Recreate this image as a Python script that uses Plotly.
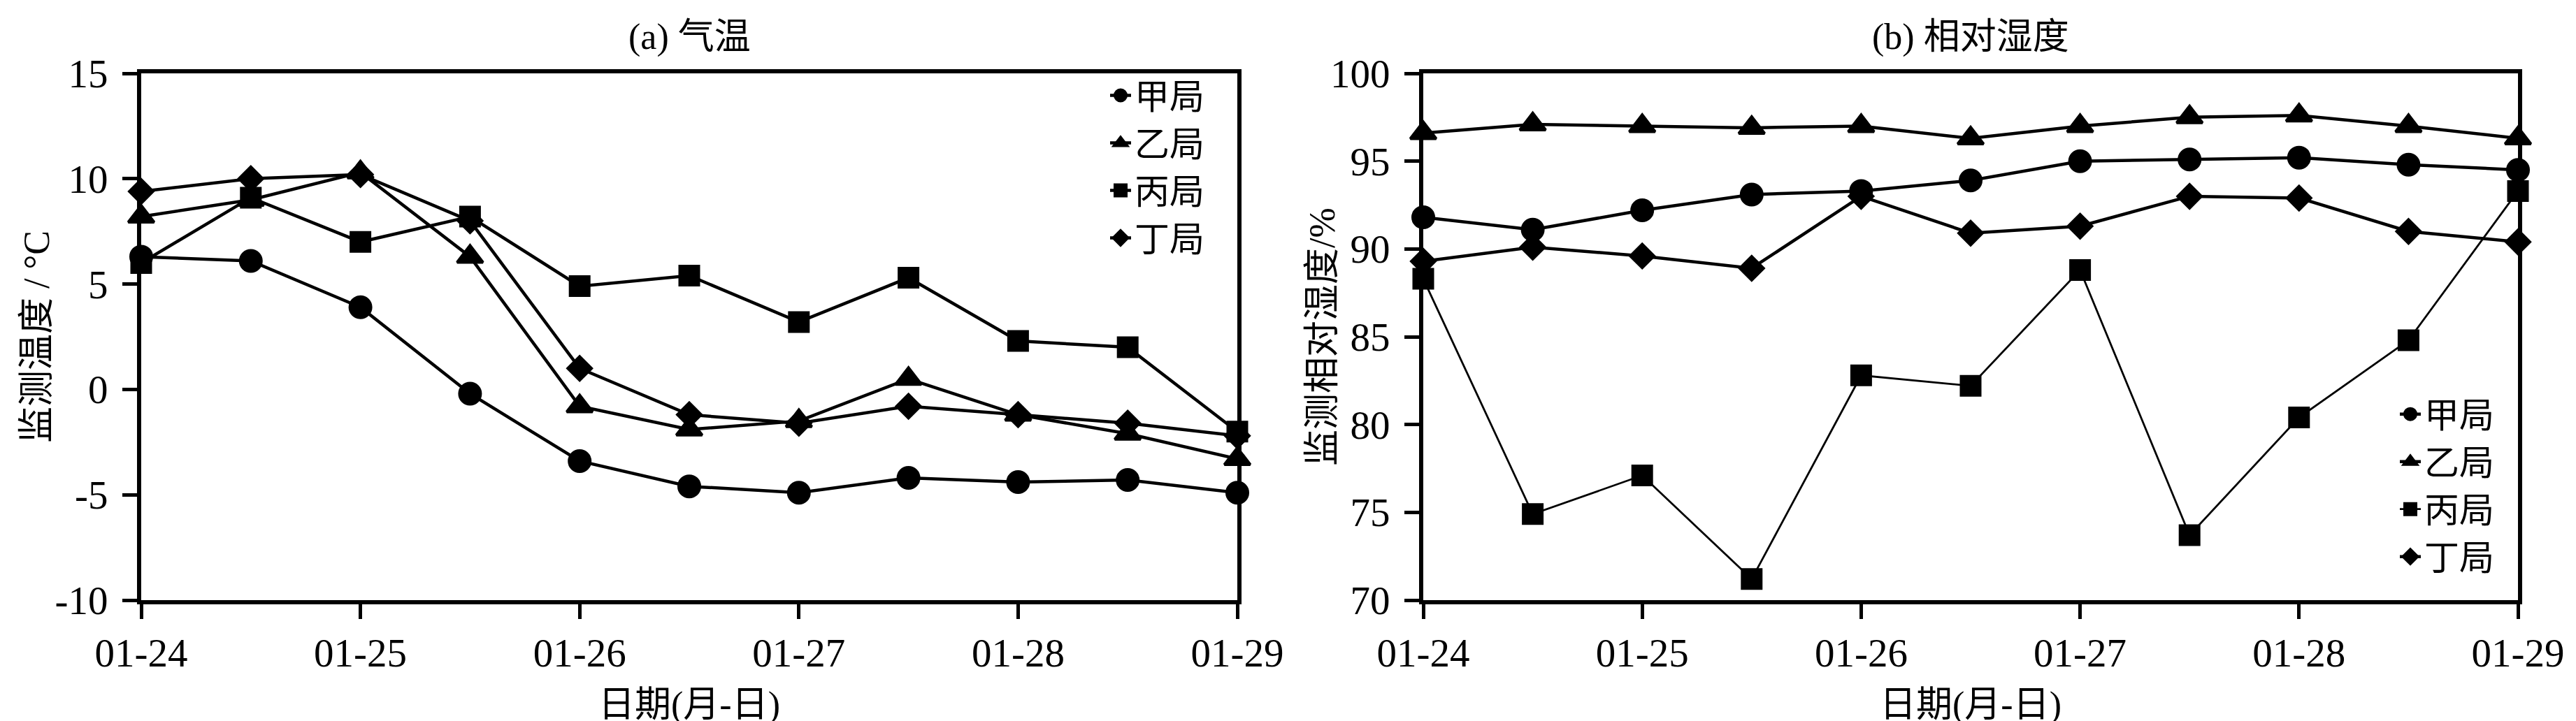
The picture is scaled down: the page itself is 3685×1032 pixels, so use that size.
import plotly.graph_objects as go
from plotly.subplots import make_subplots

# 观测时刻（以 01-24 0时为起点的天数，每半天一次）
x_pos = [0, 0.5, 1, 1.5, 2, 2.5, 3, 3.5, 4, 4.5, 5]
tick_vals = [0, 1, 2, 3, 4, 5]
tick_text = ["01-24", "01-25", "01-26", "01-27", "01-28", "01-29"]
stations = ["甲局", "乙局", "丙局", "丁局"]

# y 轴刻度（用普通连字符作负号）
temp_ticks = [-10, -5, 0, 5, 10, 15]
temp_ticktext = ["-10", "-5", "0", "5", "10", "15"]
rh_ticks = [70, 75, 80, 85, 90, 95, 100]
rh_ticktext = ["70", "75", "80", "85", "90", "95", "100"]

# (a) 气温 /°C
temp_jia = [6.3, 6.1, 3.9, -0.2, -3.4, -4.6, -4.9, -4.2, -4.4, -4.3, -4.9]
temp_yi = [8.2, 9.0, 10.3, 6.3, -0.8, -1.9, -1.5, 0.5, -1.2, -2.1, -3.3]
temp_bing = [6.0, 9.1, 7.0, 8.2, 4.9, 5.4, 3.2, 5.3, 2.3, 2.0, -2.0]
temp_ding = [9.4, 10.0, 10.2, 8.0, 1.0, -1.2, -1.6, -0.8, -1.2, -1.6, -2.2]

# (b) 相对湿度 /%
rh_jia = [91.8, 91.1, 92.2, 93.1, 93.3, 93.9, 95.0, 95.1, 95.2, 94.8, 94.5]
rh_yi = [96.6, 97.1, 97.0, 96.9, 97.0, 96.3, 97.0, 97.5, 97.6, 97.0, 96.3]
rh_bing = [88.3, 74.9, 77.1, 71.2, 82.8, 82.2, 88.8, 73.7, 80.4, 84.8, 93.3]
rh_ding = [89.3, 90.1, 89.6, 88.9, 93.0, 90.9, 91.3, 93.0, 92.9, 91.0, 90.4]

symbols = ["circle", "triangle-up", "square", "diamond"]
sizes = [30, 32, 27, 26]

W, H = 3685, 1032
FONT = "Liberation Serif, Noto Sans CJK SC"

fig = make_subplots(rows=1, cols=2)

temp_all = [temp_jia, temp_yi, temp_bing, temp_ding]
rh_all = [rh_jia, rh_yi, rh_bing, rh_ding]

for i in range(4):
    fig.add_trace(go.Scatter(
        x=x_pos, y=temp_all[i], name=stations[i], mode="lines+markers",
        line=dict(color="black", width=4.5),
        marker=dict(symbol=symbols[i], size=sizes[i], color="black",
                    line=dict(color="black", width=4)),
        cliponaxis=False, legend="legend"), row=1, col=1)

for i in range(4):
    lw = 2.8 if i == 2 else 4.5
    fig.add_trace(go.Scatter(
        x=x_pos, y=rh_all[i], name=stations[i], mode="lines+markers",
        line=dict(color="black", width=lw),
        marker=dict(symbol=symbols[i], size=sizes[i], color="black",
                    line=dict(color="black", width=4)),
        cliponaxis=False, legend="legend2"), row=1, col=2)

# 坐标轴
ax_common = dict(showline=True, linewidth=6, linecolor="black", mirror=True,
                 ticks="outside", ticklen=21, tickwidth=5, tickcolor="black",
                 showgrid=False, zeroline=False,
                 tickfont=dict(family=FONT, size=57, color="black"))

fig.update_xaxes(**ax_common, range=[0, 5], tickvals=tick_vals, ticktext=tick_text,
                 ticklabelstandoff=0)
fig.update_yaxes(**ax_common, ticklabelstandoff=9)
fig.update_yaxes(range=[-10, 15], tickvals=temp_ticks, ticktext=temp_ticktext, row=1, col=1)
fig.update_yaxes(range=[70, 100], tickvals=rh_ticks, ticktext=rh_ticktext, row=1, col=2)

fig.update_layout(
    xaxis=dict(domain=[194 / W, 1762 / W]),
    xaxis2=dict(domain=[2028 / W, 3594 / W]),
)

# 标题与坐标轴名称
d1 = fig.layout.xaxis.domain
d2 = fig.layout.xaxis2.domain
c1 = (d1[0] + d1[1]) / 2
c2 = (d2[0] + d2[1]) / 2
ann_font = dict(family=FONT, size=52, color="black")


def label(text, x, y, angle=0):
    return dict(text=text, x=x, y=y, xref="paper", yref="paper", showarrow=False,
                xanchor="center", yanchor="middle", textangle=angle, font=ann_font)


annotations = [
    label("(a) 气温", c1, 1.069),
    label("(b) 相对湿度", c2, 1.069),
    label("日期(月-日)", c1, -0.199),
    label("日期(月-日)", c2, -0.199),
    label("监测温度 / °C", 44 / W, 0.5, -90),
    label("监测相对湿度/%", 1883 / W, 0.5, -90),
]

leg_font = dict(family=FONT, size=50, color="black")
fig.update_layout(
    width=W, height=H,
    margin=dict(l=0, r=0, t=97, b=181, autoexpand=False),
    paper_bgcolor="white", plot_bgcolor="white",
    font=dict(family=FONT, color="black"),
    annotations=annotations,
    legend=dict(x=1575 / W, y=1.01, xanchor="left", yanchor="top",
                font=leg_font, bgcolor="rgba(0,0,0,0)", tracegroupgap=0),
    legend2=dict(x=3420 / W, y=0.405, xanchor="left", yanchor="top",
                 font=leg_font, bgcolor="rgba(0,0,0,0)", tracegroupgap=0),
)

fig.write_html("out.html")
